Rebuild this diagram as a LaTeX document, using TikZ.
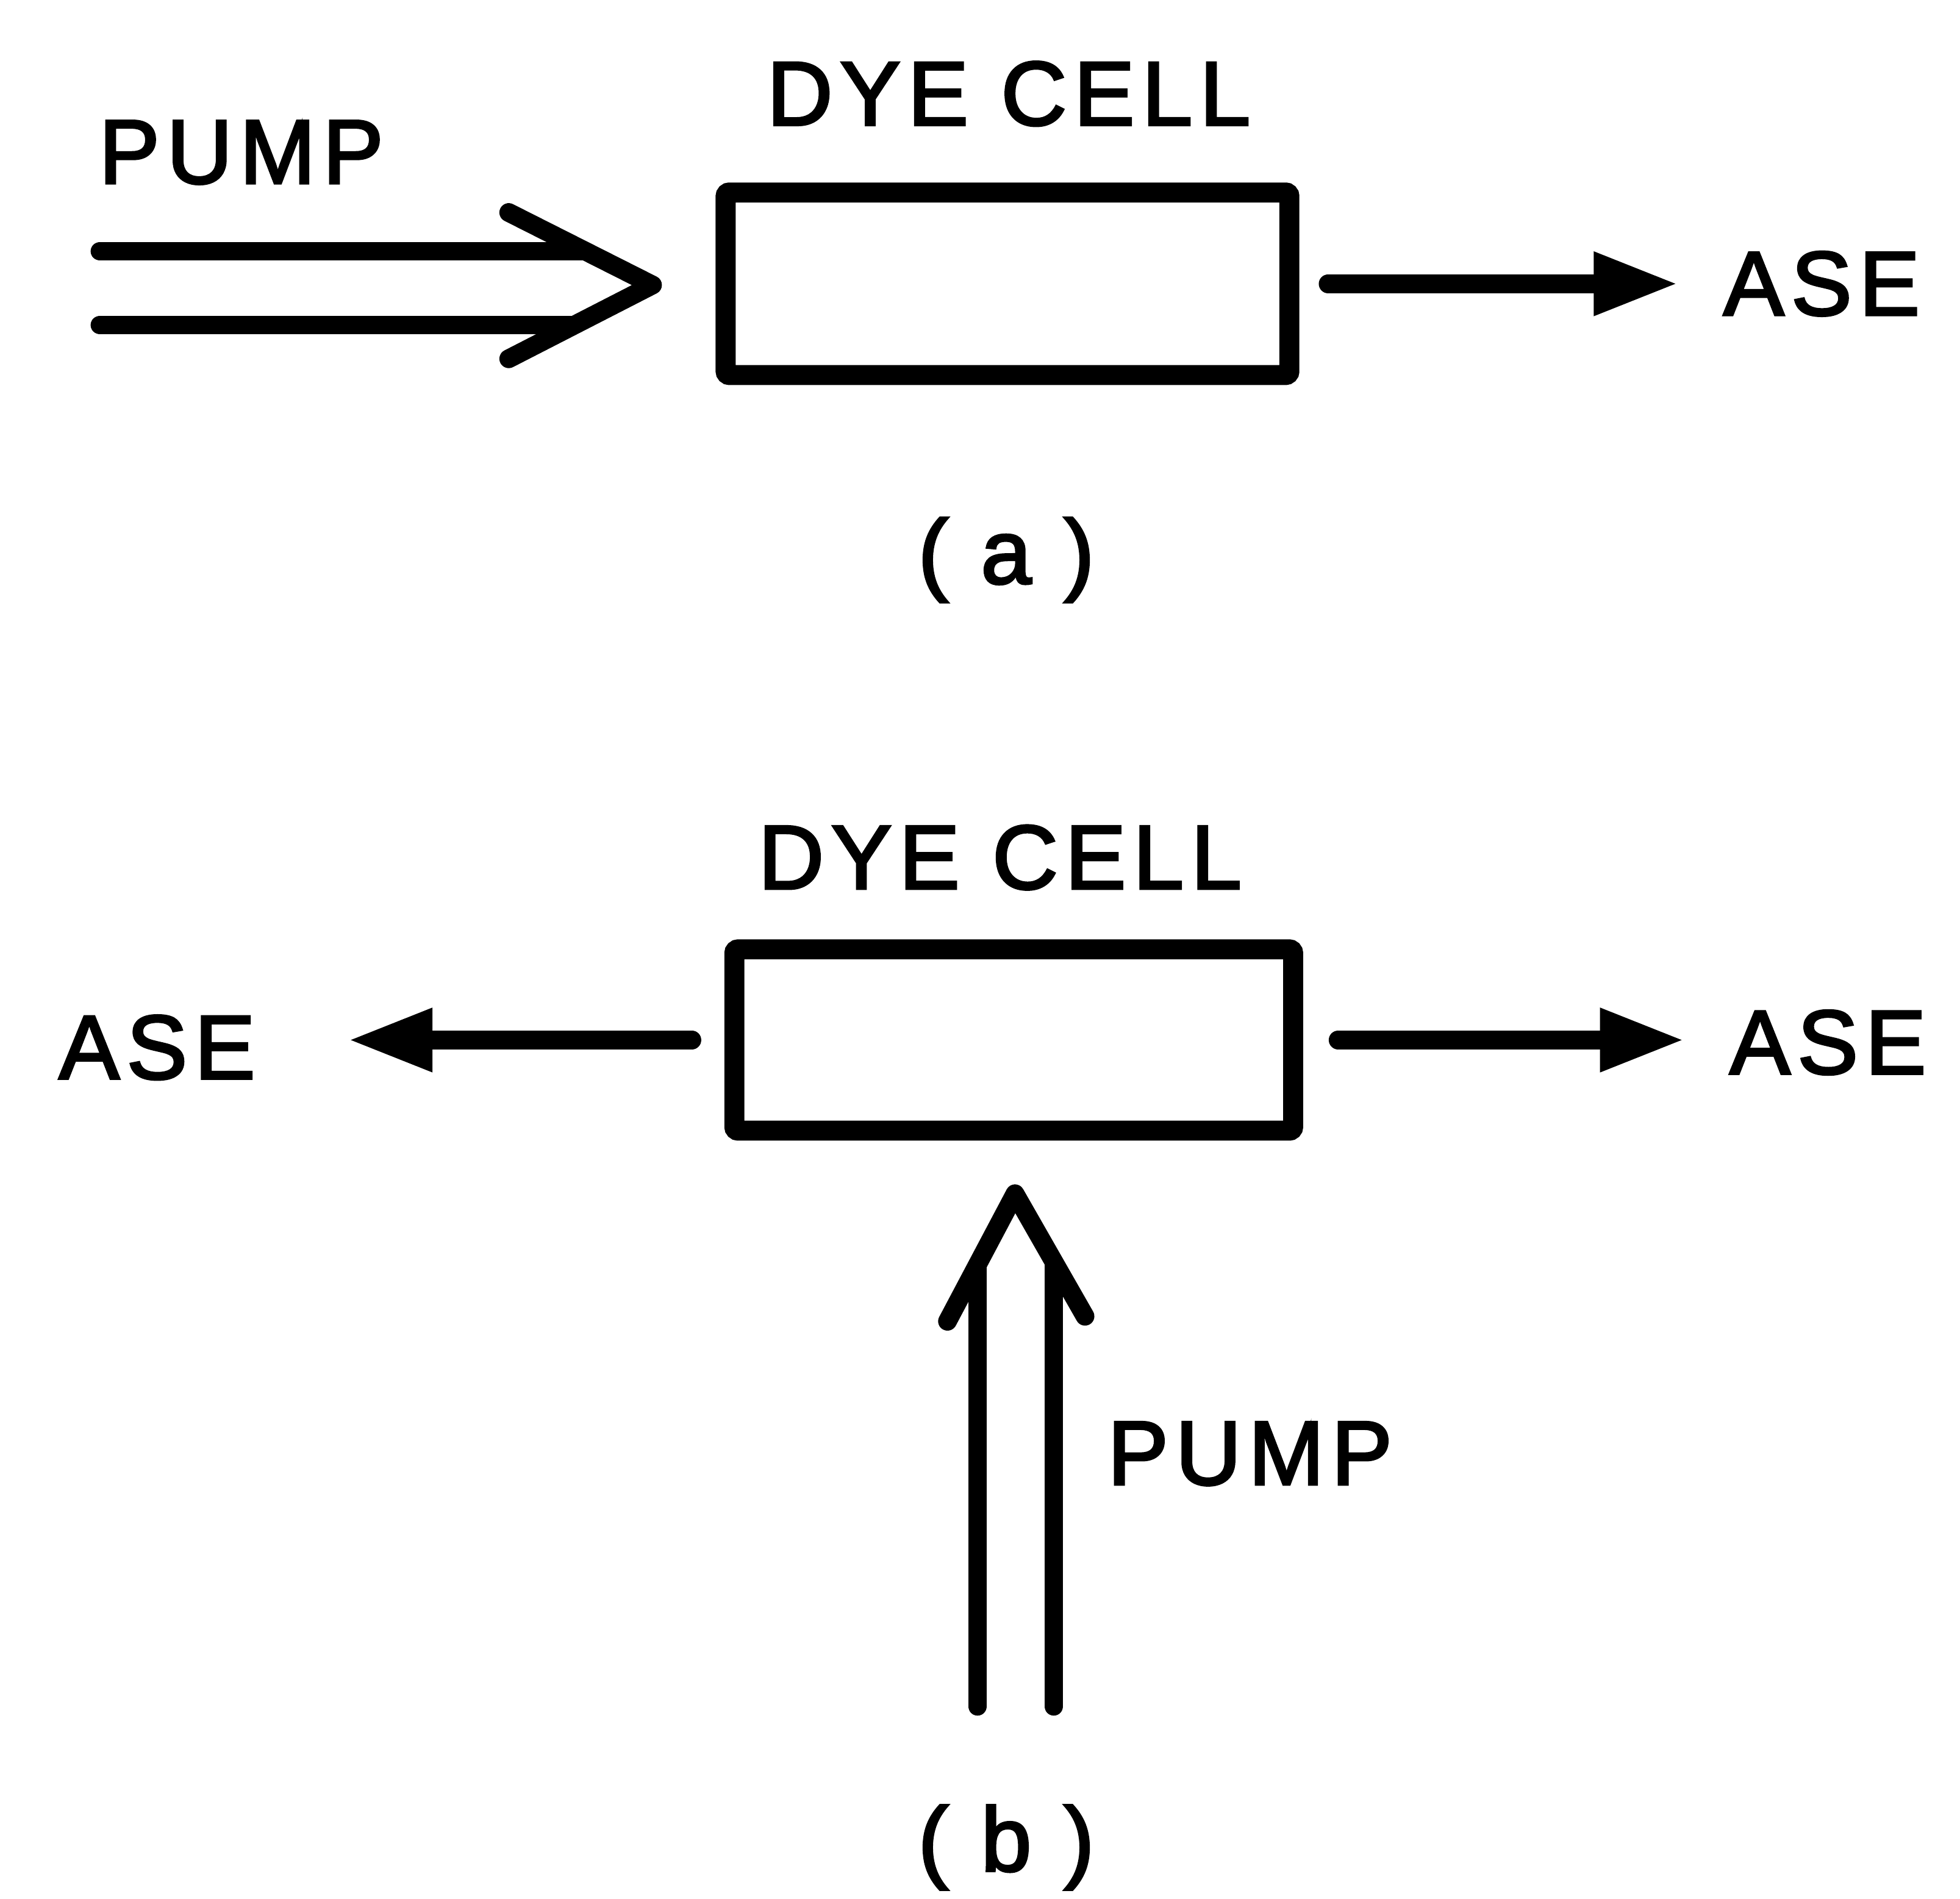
\documentclass[tikz,border=0pt]{standalone}
\usepackage{fontspec}
\setmainfont{Liberation Sans}[LetterSpace=8, FakeBold=2.6]
\usetikzlibrary{arrows.meta, positioning}

\tikzset{
  lbl/.style={inner sep=0pt, font=\fontsize{20.7}{24}\selectfont},
  cell/.style={draw, line width=1.6mm, rounded corners=0.3mm, minimum width=45.1mm,
    minimum height=14.6mm, inner sep=0pt, outer sep=0pt},
  asearrow/.style={line width=1.5mm, line cap=round,
    -{Triangle[length=6.8mm, width=4.7mm]}},
  pumparrow/.style={line width=1.5mm, line cap=round, line join=round},
}

\begin{document}
\begin{tikzpicture}[x=0.1mm, y=-0.1mm]
  \useasboundingbox (0,0) rectangle (1568,1519);

  % (a) pump along the cell
  \node[cell] (cella) at (806,227) {};
  \node[lbl] (dyea) at (807,75) {DYE CELL};
  \node[lbl] (pumpa) at (193,122) {PUMP};
  \node[lbl, anchor=west] (asea) at (1378,227) {ASE};
  \node[lbl] (capa) at (805,448) {( a )};
  \draw[asearrow, shorten <=3.1mm, shorten >=3.5mm] (cella.east) -- (asea.west);
  \coordinate (patip) at (522,228);
  \draw[pumparrow] (407,170) -- (patip) -- (407,287);
  \draw[pumparrow] (80,201) -- (466,201);
  \draw[pumparrow] (80,260) -- (457,260);

  % (b) pump from the side
  \node[cell, minimum width=44.7mm, minimum height=14.5mm] (cellb) at (811,832) {};
  \node[lbl] (dyeb) at (800,686) {DYE CELL};
  \node[lbl, anchor=east] (asebl) at (205,838) {ASE};
  \node[lbl, anchor=west] (asebr) at (1383,834) {ASE};
  \node[lbl] (pumpb) at (1000,1163) {PUMP};
  \node[lbl] (capb) at (805,1478) {( b )};
  \draw[asearrow, shorten <=3.4mm, shorten >=7.3mm] (cellb.west) -- (cellb.west -| asebl.east);
  \draw[asearrow, shorten <=3.6mm, shorten >=3.5mm] (cellb.east) -- (cellb.east -| asebr.west);
  \coordinate (pbtip) at (812,955);
  \draw[pumparrow] (758,1057) -- (pbtip) -- (868,1053);
  \foreach \x in {782,843}
    \draw[pumparrow] (\x,1365) -- (\x,1012);
\end{tikzpicture}
\end{document}
